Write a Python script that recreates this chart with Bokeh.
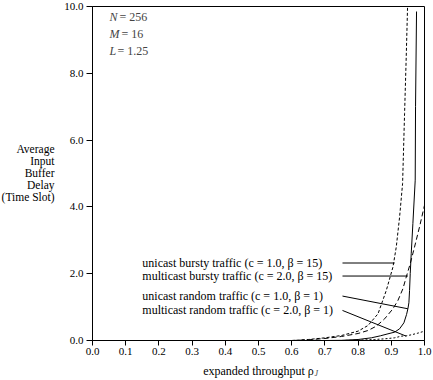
from bokeh.plotting import figure
from bokeh.models import Label, FixedTicker, PrintfTickFormatter, Range1d
from bokeh.embed import file_html
from bokeh.resources import INLINE

# ---- data ----
x_ticks = [0.0, 0.1, 0.2, 0.3, 0.4, 0.5, 0.6, 0.7, 0.8, 0.9, 1.0]
y_ticks = [0.0, 2.0, 4.0, 6.0, 8.0, 10.0]

# unicast bursty traffic (c=1.0, beta=15)
ub_x = [0.60, 0.65, 0.70, 0.75, 0.80, 0.83, 0.86, 0.885, 0.905, 0.915, 0.925, 0.934, 0.940, 0.945, 0.949]
ub_y = [0.00, 0.03, 0.08, 0.15, 0.28, 0.45, 0.80, 1.50, 2.20, 2.80, 3.70, 4.70, 6.80, 8.50, 10.0]

# multicast bursty traffic (c=2.0, beta=15)
mb_x = [0.60, 0.65, 0.70, 0.75, 0.80, 0.83, 0.855, 0.88, 0.905, 0.92, 0.935, 0.945, 0.957, 0.97, 0.985, 1.0]
mb_y = [0.00, 0.02, 0.06, 0.12, 0.21, 0.30, 0.43, 0.65, 0.95, 1.20, 1.55, 1.90, 2.30, 2.80, 3.40, 4.05]

# unicast random traffic (c=1.0, beta=1)
ur_x = [0.70, 0.75, 0.80, 0.84, 0.867, 0.89, 0.91, 0.925, 0.938, 0.946, 0.950, 0.953, 0.955, 0.957, 0.960, 0.965, 0.972, 0.973, 0.976]
ur_y = [0.00, 0.005, 0.03, 0.08, 0.14, 0.20, 0.25, 0.35, 0.53, 0.78, 0.95, 1.13, 1.50, 2.00, 2.60, 3.50, 4.80, 7.00, 9.85]

# multicast random traffic (c=2.0, beta=1)
mr_x = [0.75, 0.80, 0.85, 0.88, 0.91, 0.93, 0.945, 0.96, 0.98, 1.0]
mr_y = [0.00, 0.01, 0.03, 0.05, 0.08, 0.13, 0.14, 0.17, 0.22, 0.28]

legend_texts = [
    "unicast bursty traffic (c = 1.0, \u03b2 = 15)",
    "multicast bursty traffic (c = 2.0, \u03b2 = 15)",
    "unicast random traffic (c = 1.0, \u03b2 = 1)",
    "multicast random traffic (c = 2.0, \u03b2 = 1)",
]
legend_y = [2.32, 1.93, 1.33, 0.90]
# leader-line targets on each curve
leader_x1 = [0.91, 0.95, 0.95, 0.945]
leader_y1 = [2.32, 1.93, 0.95, 0.13]

param_names = ["N", "M", "L"]
param_values = [" = 256", " = 16", " = 1.25"]

ylabel_lines = ["Average", "Input", "Buffer", "Delay", "(Time Slot)"]
xlabel_text = "expanded throughput \u03c1"

FONT = "Liberation Serif"

p = figure(width=433, height=380, x_range=Range1d(0, 1), y_range=Range1d(0, 10),
           output_backend="svg", toolbar_location=None,
           min_border_left=92, min_border_right=9, min_border_top=6, min_border_bottom=39)
p.xgrid.visible = False
p.ygrid.visible = False
p.outline_line_color = "black"
p.outline_line_width = 1
p.background_fill_color = "white"
p.border_fill_color = "white"

for ax in (p.xaxis[0], p.yaxis[0]):
    ax.axis_line_color = "black"
    ax.major_tick_line_color = "black"
    ax.minor_tick_line_color = None
    ax.major_tick_in = 0
    ax.major_label_text_font = FONT
    ax.major_label_text_font_size = "11px"
    ax.major_label_text_color = "black"
    ax.formatter = PrintfTickFormatter(format="%.1f")
    ax.axis_label_text_font = FONT
    ax.axis_label_text_font_size = "12px"
    ax.axis_label_text_font_style = "normal"
    ax.axis_label_text_color = "black"

p.xaxis.ticker = FixedTicker(ticks=x_ticks)
p.yaxis.ticker = FixedTicker(ticks=y_ticks)
p.xaxis.major_tick_out = 5
p.yaxis.major_tick_out = 6
p.xaxis.major_label_standoff = 2
p.yaxis.major_label_standoff = 3

p.xaxis.axis_label = xlabel_text
p.xaxis.axis_label_standoff = 6

# y-axis title: right-aligned multi-line label in its own left panel
p.add_layout(Label(x=46, y=168, x_units="screen", y_units="screen",
                   text="\n".join(ylabel_lines), text_font=FONT, text_font_size="11.5px",
                   text_align="right", text_baseline="middle", text_line_height=1.0,
                   text_color="black"), "left")

p.line(ub_x, ub_y, line_color="black", line_width=1, line_dash="3 2")
p.line(mb_x, mb_y, line_color="black", line_width=1, line_dash="5 3")
p.line(ur_x, ur_y, line_color="black", line_width=1)
p.line(mr_x, mr_y, line_color="black", line_width=1, line_dash="2 2")

# leader lines
leader_x0 = [0.753] * 4
p.segment(leader_x0, legend_y, leader_x1, leader_y1, line_color="black", line_width=1)

for t, yy in zip(legend_texts, legend_y):
    p.add_layout(Label(x=0.15, y=yy, text=t, text_font=FONT, text_font_size="12px",
                       text_baseline="middle", text_align="left", text_color="black"))

param_y = [9.69, 9.19, 8.67]
name_w = [10, 12, 8]
for n, v, yy, w in zip(param_names, param_values, param_y, name_w):
    p.add_layout(Label(x=0.051, y=yy, text=n, text_font=FONT, text_font_size="12px",
                       text_font_style="italic", text_baseline="middle", text_align="left"))
    p.add_layout(Label(x=0.051, y=yy, x_offset=w, text=v, text_font=FONT, text_font_size="12px",
                       text_baseline="middle", text_align="left"))

# subscript of rho in the x-axis title, placed via the (narrow) right panel
p.add_layout(Label(x=-110, y=-33, x_units="screen", y_units="screen", text="J",
                   text_font=FONT, text_font_size="8px", text_font_style="italic",
                   text_baseline="middle", text_align="left"), "right")

open("out.html", "w").write(file_html(p, INLINE))
